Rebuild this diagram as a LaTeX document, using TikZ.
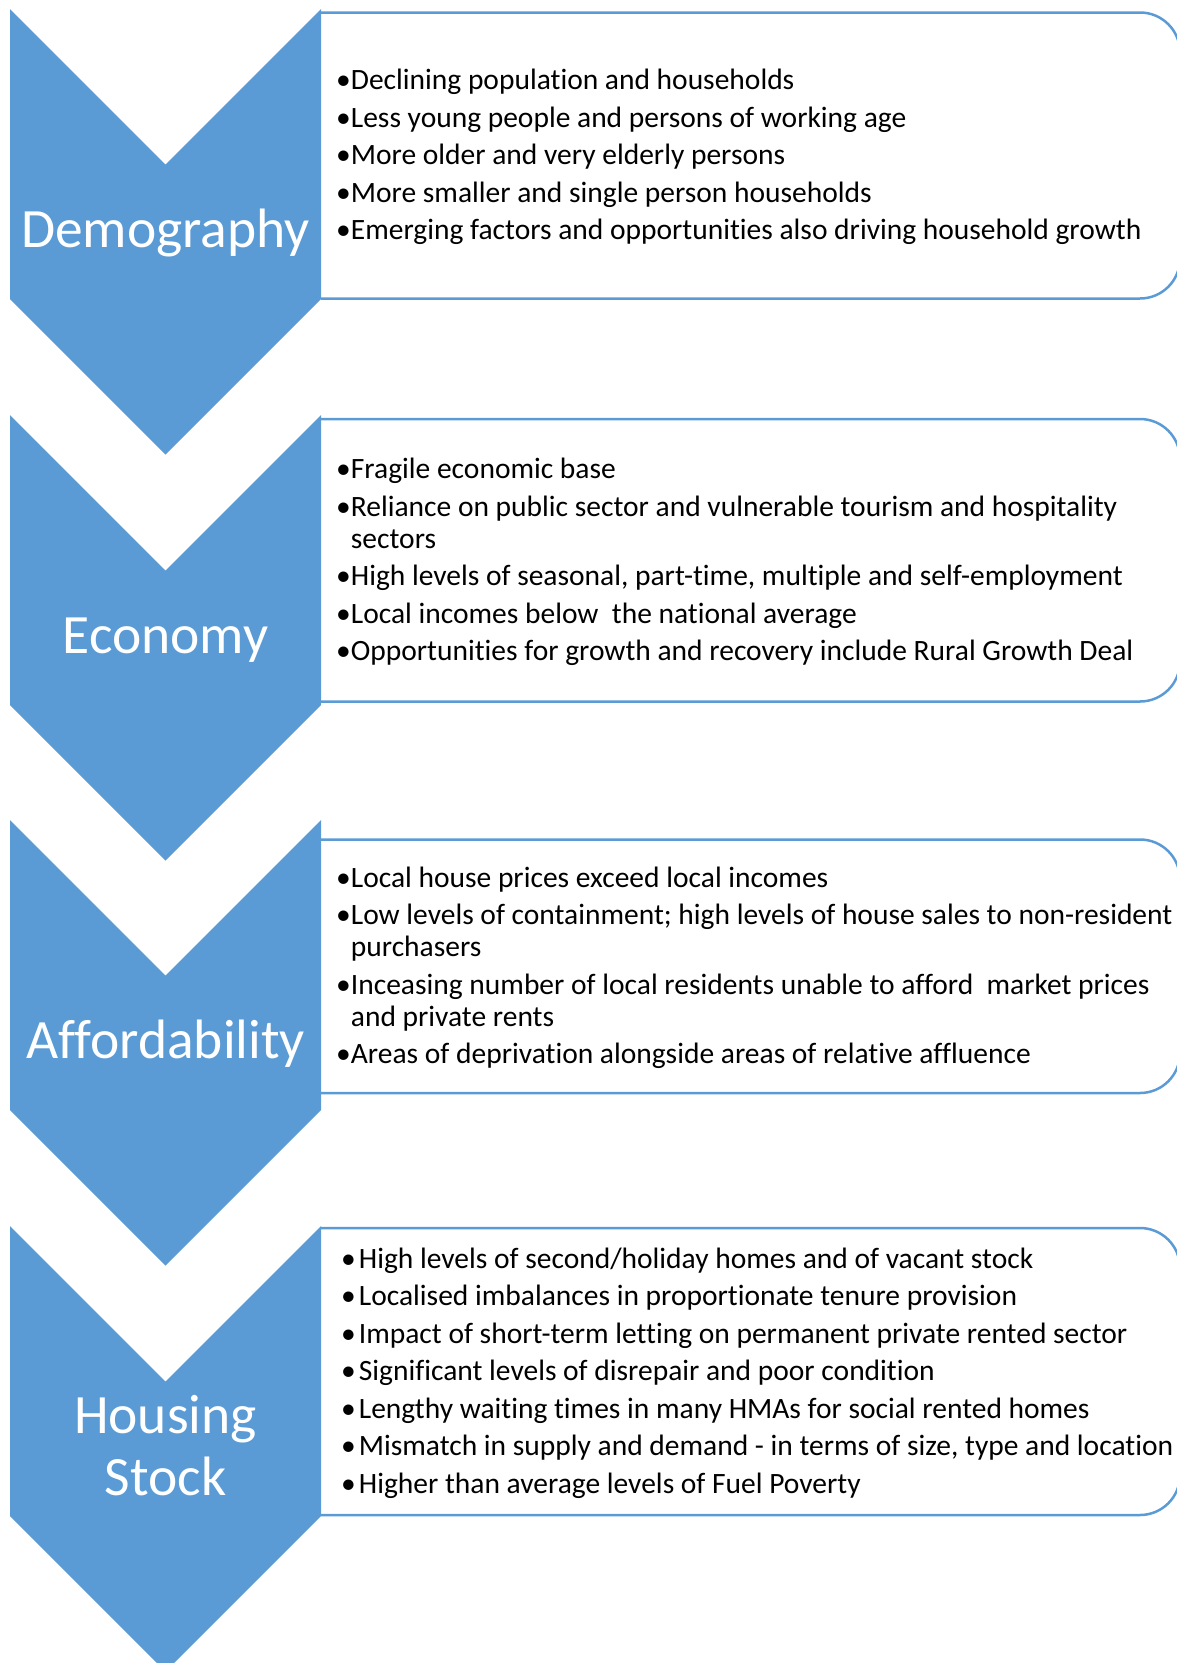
\documentclass[tikz,border=0pt]{standalone}
\usepackage{fontspec}
\setmainfont{Carlito}[Ligatures=CommonOff]
\definecolor{chevblue}{HTML}{5B9BD5}
\tikzset{
  chevron/.style={fill=chevblue, draw=none},
  boxline/.style={draw=chevblue, line width=2.5pt, rounded corners=40pt},
  biglabel/.style={text=white, anchor=base, align=center, inner sep=0pt,
                   font=\fontsize{55.5}{62}\selectfont},
  itemlist/.style={anchor=west, align=left, inner sep=0pt,
                   font=\fontsize{29.5}{32}\selectfont}
}
\begin{document}
\begin{tikzpicture}[x=1pt, y=-1pt]
\useasboundingbox (0,0) rectangle (1176,1663);

\draw[boxline] (321,12.5) -- (1180,12.5) -- (1180,298.5) -- (321,298.5);
\draw[boxline] (321,419) -- (1180,419) -- (1180,701.5) -- (321,701.5);
\draw[boxline] (321,839.5) -- (1180,839.5) -- (1180,1093) -- (321,1093);
\draw[boxline] (321,1228) -- (1180,1228) -- (1180,1515) -- (321,1515);

\fill[chevron] (10,9) -- (165.5,164.5) -- (321,9) -- (321,299)
               -- (165.5,454.5) -- (10,299) -- cycle;
\fill[chevron] (10,415) -- (165.5,570.5) -- (321,415) -- (321,705)
               -- (165.5,860.5) -- (10,705) -- cycle;
\fill[chevron] (10,820) -- (165.5,975.5) -- (321,820) -- (321,1110)
               -- (165.5,1265.5) -- (10,1110) -- cycle;
\fill[chevron] (10,1226) -- (165.5,1381.5) -- (321,1226) -- (321,1516)
               -- (165.5,1671.5) -- (10,1516) -- cycle;

\node[biglabel] (demo) at (165.5,247.75) {Demography};
\node[biglabel] (econ) at (165.5,653.75) {Economy};
\node[biglabel] (afford) at (165.5,1058.75) {Affordability};
\node[biglabel] (stock) at (165.5,1495) {Housing\\Stock};

\node[itemlist] (demolist) at (336,157) {%
  •Declining population and households\\[5.5pt]
  •Less young people and persons of working age\\[5.5pt]
  •More older and very elderly persons\\[5.5pt]
  •More smaller and single person households\\[5.5pt]
  •Emerging factors and opportunities also driving household growth};

\node[itemlist] (econlist) at (336,562.25) {%
  •Fragile economic base\\[5.5pt]
  •Reliance on public sector and vulnerable tourism and hospitality\\
  \phantom{•}sectors\\[5.5pt]
  •High levels of seasonal, part-time, multiple and self-employment\\[5.5pt]
  •Local incomes below\ \ the national average\\[5.5pt]
  •Opportunities for growth and recovery include Rural Growth Deal};

\node[itemlist] (affordlist) at (336,968) {%
  •Local house prices exceed local incomes\\[5.5pt]
  •Low levels of containment; high levels of house sales to non-resident\\
  \phantom{•}purchasers\\[5.5pt]
  •Inceasing number of local residents unable to afford\ \ market prices\\
  \phantom{•}and private rents\\[5.5pt]
  •Areas of deprivation alongside areas of relative affluence};

\node[itemlist] (stocklist) at (341,1373.25) {%
  •\hspace{3pt}High levels of second/holiday homes and of vacant stock\\[5.5pt]
  •\hspace{3pt}Localised imbalances in proportionate tenure provision\\[5.5pt]
  •\hspace{3pt}Impact of short-term letting on permanent private rented sector\\[5.5pt]
  •\hspace{3pt}Significant levels of disrepair and poor condition\\[5.5pt]
  •\hspace{3pt}Lengthy waiting times in many HMAs for social rented homes\\[5.5pt]
  •\hspace{3pt}Mismatch in supply and demand - in terms of size, type and location\\[5.5pt]
  •\hspace{3pt}Higher than average levels of Fuel Poverty};
\end{tikzpicture}
\end{document}
